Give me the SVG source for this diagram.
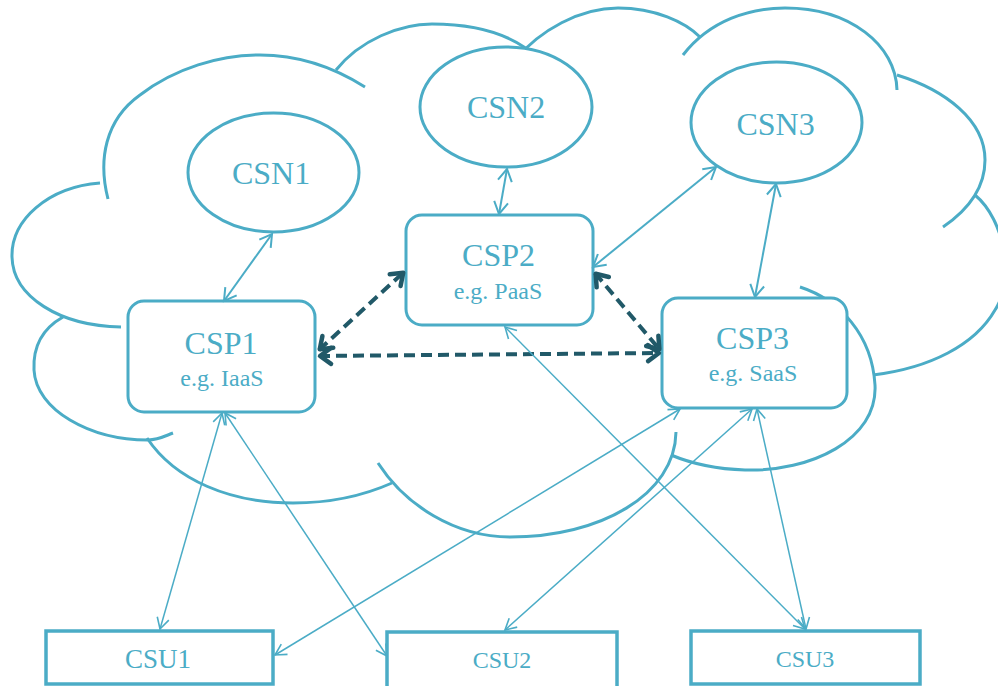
<svg xmlns="http://www.w3.org/2000/svg" width="998" height="686" viewBox="0 0 998 686">
<style>
.cloud{fill:none;stroke:#4bacc6;stroke-width:3;stroke-linecap:butt}
.node{fill:#ffffff;stroke:#4bacc6;stroke-width:3}
.csu{fill:#ffffff;stroke:#4bacc6;stroke-width:3.5}
.t{font-family:"Liberation Serif","Times New Roman",serif;fill:#4bacc6;text-anchor:middle}
.big{font-size:32px}
.sub{font-size:24px}
.thin{fill:none;stroke:#4bacc6;stroke-width:1.5;marker-start:url(#ah);marker-end:url(#ah)}
.mid{fill:none;stroke:#4bacc6;stroke-width:2;marker-start:url(#ah2);marker-end:url(#ah2)}
.dash{fill:none;stroke:#215968;stroke-width:4;stroke-dasharray:11 6;marker-start:url(#ad);marker-end:url(#ad)}
</style>
<defs>
<marker id="ah" viewBox="-13 -8 16 16" refX="0" refY="0" markerWidth="16" markerHeight="16" markerUnits="userSpaceOnUse" orient="auto-start-reverse">
<path d="M-11,-6 L0,0 L-11,6" fill="none" stroke="#4bacc6" stroke-width="1.6"/>
</marker>
<marker id="ah2" viewBox="-14 -9 18 18" refX="0" refY="0" markerWidth="18" markerHeight="18" markerUnits="userSpaceOnUse" orient="auto-start-reverse">
<path d="M-12,-7 L0,0 L-12,7" fill="none" stroke="#4bacc6" stroke-width="2"/>
</marker>
<marker id="ad" viewBox="-16 -12 20 24" refX="0" refY="0" markerWidth="20" markerHeight="24" markerUnits="userSpaceOnUse" orient="auto-start-reverse">
<path d="M-12,-8 L-1,0 L-12,8" fill="none" stroke="#215968" stroke-width="4.5" stroke-linecap="round" stroke-linejoin="round"/>
</marker>
</defs>
<rect width="998" height="686" fill="#ffffff"/>
<g id="cloud">
<path class="cloud" d="M100,183 C48,187 11,220 12,257 C13,297 60,326 121,327"/>
<path class="cloud" d="M108,199 C98,160 105,120 140,95 C175,68 220,55 260,55 C300,55 335,68 365,87"/>
<path class="cloud" d="M336,70 C360,40 400,24 432,24 C480,24 515,35 540,60"/>
<path class="cloud" d="M515,60 C540,30 580,8 618,8 C655,8 685,22 700,37"/>
<path class="cloud" d="M683,55 C710,20 750,8 785,8 C850,8 896,45 897,90"/>
<path class="cloud" d="M897,75 C945,90 985,120 985,160 C985,190 965,212 943,227"/>
<path class="cloud" d="M975,195 C1005,220 1015,280 995,310 C975,345 930,368 873,375"/>
<path class="cloud" d="M800,287 C840,300 872,335 875,385 C878,440 810,472 745,470 C715,469 690,463 671,455"/>
<path class="cloud" d="M676,432 C675,495 600,537 510,537 C455,537 405,505 378,463"/>
<path class="cloud" d="M147,438 C175,480 230,503 293,503 C330,503 365,495 392,483"/>
<path class="cloud" d="M63,317 C40,330 33,350 34,370 C36,410 90,440 148,440 C158,440 165,436 173,433"/>
</g>
<g id="csn1"><ellipse class="node" cx="273.5" cy="172.5" rx="85.5" ry="59.5"/><text class="t big" x="271" y="184">CSN1</text></g>
<g id="csn2"><ellipse class="node" cx="506" cy="107" rx="86" ry="60"/><text class="t big" x="506" y="118">CSN2</text></g>
<g id="csn3"><ellipse class="node" cx="776.5" cy="122.5" rx="85.5" ry="60.5"/><text class="t big" x="775.5" y="135">CSN3</text></g>
<g id="csp1"><rect class="node" x="128" y="301" width="187" height="111" rx="16"/><text class="t big" x="221" y="354">CSP1</text><text class="t sub" x="222" y="386">e.g. IaaS</text></g>
<g id="csp2"><rect class="node" x="406" y="215" width="187" height="110" rx="16"/><text class="t big" x="498.5" y="266">CSP2</text><text class="t sub" x="498" y="299">e.g. PaaS</text></g>
<g id="csp3"><rect class="node" x="662" y="298" width="185" height="110" rx="16"/><text class="t big" x="752.5" y="349">CSP3</text><text class="t sub" x="753" y="381">e.g. SaaS</text></g>
<g id="csu1"><rect class="csu" x="46" y="631" width="227" height="53"/><text class="t" font-size="27" x="158" y="668">CSU1</text></g>
<g id="csu2"><rect class="csu" x="387" y="632" width="230" height="58"/><text class="t" font-size="24" x="502" y="668">CSU2</text></g>
<g id="csu3"><rect class="csu" x="691" y="631" width="229" height="53"/><text class="t" font-size="24" x="805" y="667">CSU3</text></g>
<g id="connectors">
<line class="mid" x1="272" y1="234" x2="224" y2="301"/>
<line class="mid" x1="507" y1="169" x2="499" y2="214"/>
<line class="mid" x1="716" y1="167" x2="593" y2="267"/>
<line class="mid" x1="776" y1="184" x2="755" y2="297"/>
<line class="dash" x1="319" y1="350" x2="404" y2="272"/>
<line class="dash" x1="319" y1="356" x2="660" y2="353"/>
<line class="dash" x1="595" y1="273" x2="660" y2="350"/>
<line class="thin" x1="222" y1="413" x2="160" y2="629"/>
<line class="thin" x1="225" y1="413" x2="387" y2="656"/>
<line class="thin" x1="680" y1="409" x2="275" y2="655"/>
<line class="thin" x1="752" y1="409" x2="505" y2="630"/>
<line class="thin" x1="757" y1="409" x2="806" y2="629"/>
<line class="thin" x1="505" y1="327" x2="805" y2="629"/>
</g>
</svg>
